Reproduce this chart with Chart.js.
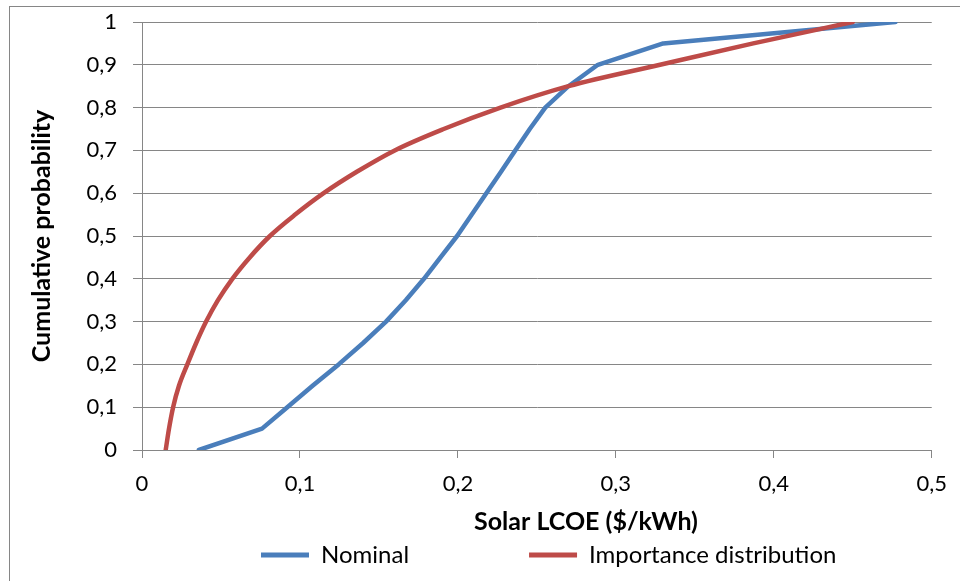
<!DOCTYPE html>
<html><head><meta charset="utf-8">
<script src="https://cdn.jsdelivr.net/npm/chart.js@4/dist/chart.umd.min.js"></script>
<style>
html,body{margin:0;padding:0;background:#fff;}
#wrap{position:relative;width:960px;height:581px;overflow:hidden;background:#fff;}
#frame{position:absolute;left:9px;top:6px;width:1200px;height:800px;border:1px solid #868686;box-sizing:border-box;}
#c{position:absolute;left:0;top:0;}
</style></head><body>
<div id="wrap"><div id="frame"></div><canvas id="c" width="960" height="581"></canvas></div>
<script>
// ---- data ----
const probability = [0, 0.05, 0.1, 0.15, 0.2, 0.25, 0.3, 0.35, 0.4, 0.45, 0.5, 0.55, 0.6, 0.65, 0.7, 0.75, 0.8, 0.85, 0.9, 0.95, 1];
const nominalCost = [0.036, 0.076, 0.092, 0.108, 0.1245, 0.140, 0.1545, 0.167, 0.1785, 0.189, 0.1995, 0.2088, 0.218, 0.2273, 0.2363, 0.2455, 0.2553, 0.2700, 0.2886, 0.330, 0.477];
const importanceCost = [0.015, 0.0171, 0.0197, 0.0234, 0.0287, 0.0343, 0.0406, 0.0481, 0.0572, 0.0682, 0.081, 0.097, 0.115, 0.136, 0.160, 0.191, 0.227, 0.270, 0.328, 0.387, 0.450];
const seriesNames = ['Nominal', 'Importance distribution'];
const xTickLabels = ['0', '0,1', '0,2', '0,3', '0,4', '0,5'];
const yTickLabels = ['0', '0,1', '0,2', '0,3', '0,4', '0,5', '0,6', '0,7', '0,8', '0,9', '1'];
const xAxisTitle = 'Solar LCOE ($/kWh)';
const yAxisTitle = 'Cumulative probability';

// ---- style ----
const BLUE = '#4A7EBB', RED = '#BE4B48', GRID = '#868686';
const FONT = 'Lato';
const TICK_SIZE = 22, TITLE_SIZE = 25, LEG_SIZE = 24;
const LEG_BOX = 48;
const LEG_START = 261, RED_START = 529;
const SPACERS = 2;

const mctx = document.createElement('canvas').getContext('2d');
mctx.font = LEG_SIZE + 'px ' + FONT;
const nomW = mctx.measureText(seriesNames[0]).width;
const spacerW = LEG_BOX + LEG_SIZE / 2;
const LEG_PAD = Math.max(0, (RED_START - LEG_START - SPACERS * spacerW - (LEG_BOX + LEG_SIZE / 2 + nomW)) / (SPACERS + 1));

const toPts = (xs, ys) => xs.map((x, i) => ({x: x, y: ys[i]}));
const colors = [BLUE, RED];

const placeBoxes = {
  id: 'placeBoxes',
  afterLayout(chart) {
    const t = chart.titleBlock;
    if (t) {
      const h = t.height;
      t.left = 586 - 250; t.right = 586 + 250; t.width = 500;
      t.top = 522 - h / 2; t.bottom = t.top + h;
    }
    const lg = chart.legend;
    if (lg) {
      const P = LEG_PAD;
      const w = lg.width, h = lg.height;
      lg.left = LEG_START - P; lg.right = lg.left + w;
      lg.top = 555 - LEG_SIZE / 2 - P; lg.bottom = lg.top + h;
    }
  }
};

new Chart(document.getElementById('c'), {
  type: 'scatter',
  data: {
    datasets: [
      {label: seriesNames[0], data: toPts(nominalCost, probability), showLine: true,
       borderColor: BLUE, backgroundColor: BLUE, borderWidth: 4.5, pointRadius: 0, tension: 0,
       borderCapStyle: 'round', borderJoinStyle: 'round', order: 1},
      {label: seriesNames[1], data: toPts(importanceCost, probability), showLine: true,
       borderColor: RED, backgroundColor: RED, borderWidth: 4.5, pointRadius: 0,
       cubicInterpolationMode: 'monotone', borderCapStyle: 'round', borderJoinStyle: 'round', order: 0}
    ]
  },
  options: {
    responsive: false,
    animation: false,
    devicePixelRatio: 1,
    layout: {padding: {left: 10, top: 22, right: 22, bottom: 0}},
    plugins: {
      tooltip: {enabled: false},
      title: {
        display: true, text: xAxisTitle, position: 'bottom', weight: 500,
        color: '#000', padding: 0, font: {family: FONT, size: TITLE_SIZE, weight: 'bold'}
      },
      legend: {
        display: true, position: 'bottom', align: 'start', weight: 1000,
        labels: {
          color: '#000', font: {family: FONT, size: LEG_SIZE},
          boxWidth: LEG_BOX, boxHeight: 5, padding: LEG_PAD,
          generateLabels(chart) {
            const items = chart.data.datasets.map((ds, i) => ({
              text: ds.label, fillStyle: colors[i], strokeStyle: colors[i], lineWidth: 0,
              hidden: false, datasetIndex: i, fontColor: '#000'
            }));
            for (let k = 0; k < SPACERS; k++) {
              items.splice(1, 0, {text: '', fillStyle: 'rgba(0,0,0,0)', strokeStyle: 'rgba(0,0,0,0)', lineWidth: 0, hidden: false});
            }
            return items;
          }
        },
        onClick: () => {}
      }
    },
    scales: {
      x: {
        type: 'linear', position: 'bottom', min: 0, max: 0.5,
        ticks: {stepSize: 0.1, color: '#000', padding: 13, maxRotation: 0,
          font: {family: FONT, size: TICK_SIZE},
          callback: (v, i) => xTickLabels[i]},
        grid: {display: true, drawOnChartArea: false, drawTicks: true, tickLength: 8, color: GRID, lineWidth: 1},
        border: {display: true, color: GRID, width: 1},
        afterFit(scale) {
          const c = scale.chart;
          const lh = c.legend ? c.legend.height : 0;
          const th = c.titleBlock ? c.titleBlock.height : 0;
          scale.height = Math.max(1, 131 - lh - th);
        }
      },
      y: {
        type: 'linear', position: 'left', min: 0, max: 1,
        ticks: {stepSize: 0.1, color: '#000', padding: 16,
          font: {family: FONT, size: TICK_SIZE},
          callback: (v, i) => yTickLabels[i]},
        grid: {display: true, drawOnChartArea: true, drawTicks: true, tickLength: 9, color: GRID, lineWidth: 1},
        border: {display: true, color: GRID, width: 1},
        title: {display: true, text: yAxisTitle, color: '#000', padding: {top: 17, bottom: 0},
          font: {family: FONT, size: TITLE_SIZE, weight: 'bold'}},
        afterFit(scale) { scale.width = 132; scale.paddingTop = 0; scale.paddingBottom = 0; }
      }
    }
  },
  plugins: [placeBoxes]
});
</script>
</body></html>
